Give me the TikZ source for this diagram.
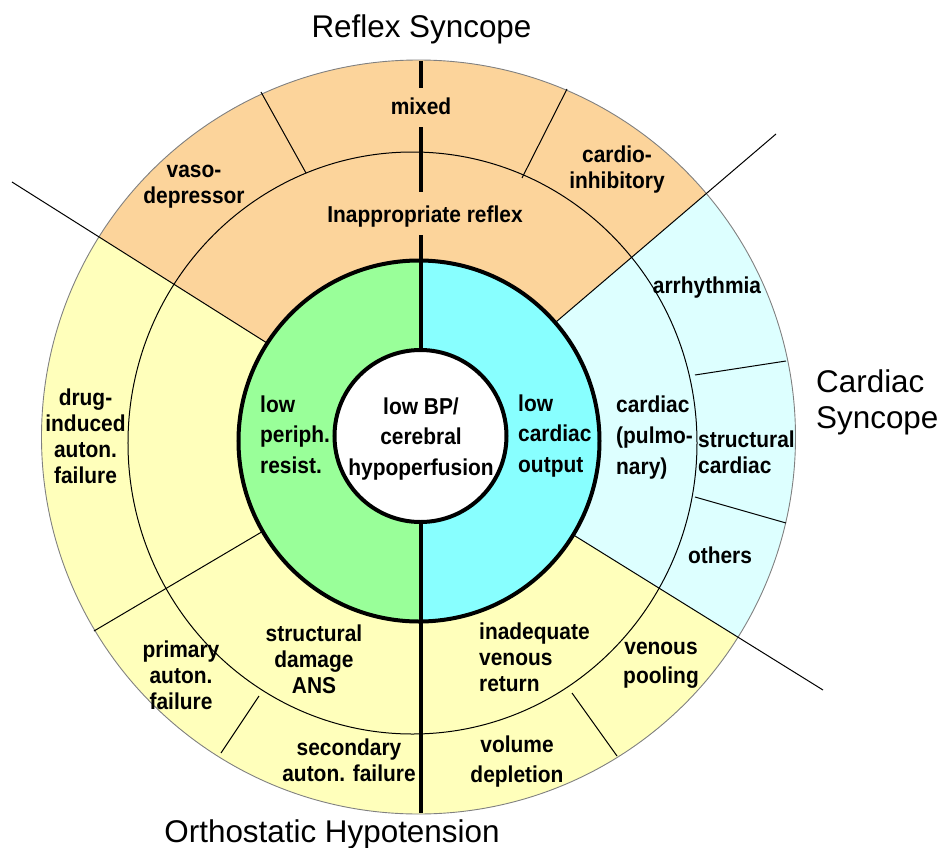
\documentclass[tikz,border=0pt]{standalone}
\usepackage{fontspec}
\setmainfont{Liberation Sans}
\newfontfamily\lblfont{Liberation Sans}[FakeStretch=0.91]
\definecolor{reflexfill}{RGB}{252,212,155}
\definecolor{orthofill}{RGB}{255,255,187}
\definecolor{cardfill}{RGB}{221,255,255}
\definecolor{periphfill}{RGB}{153,255,153}
\definecolor{outputfill}{RGB}{136,255,255}
\begin{document}
\begin{tikzpicture}[x=1pt,y=1pt,
  lbl/.style={font=\lblfont\bfseries\fontsize{23}{26}\selectfont, align=center, inner sep=0pt},
  lblwide/.style={font=\lblfont\bfseries\fontsize{23}{30.5}\selectfont, align=center, inner sep=0pt},
  lblleft/.style={font=\lblfont\bfseries\fontsize{23}{30.5}\selectfont, align=left, inner sep=0pt, anchor=west},
  ttl/.style={font=\fontsize{31.4}{36}\selectfont, align=left, inner sep=0pt},
  thinline/.style={line width=1pt},
  thickline/.style={line width=4.6pt},
  ringline/.style={line width=4pt},
]
\useasboundingbox (-419,-408) rectangle (525,439);

% sector backgrounds of the outer two rings
\begin{scope}
  \clip (-0.5,2) circle (377);
  \fill[reflexfill] (0,0) -- (40.5:600) arc (40.5:147.7:600) -- cycle;
  \fill[orthofill] (0,0) -- (147.7:600) arc (147.7:328.15:600) -- cycle;
  \fill[cardfill] (0,0) -- (-31.85:600) arc (-31.85:40.5:600) -- cycle;
\end{scope}

% ring boundaries
\draw[thinline] (-6.5,-4) ellipse [x radius=284.5, y radius=291];
\draw[gray, line width=0.9pt] (-0.5,2) circle (377);

% main dividing rays
\coordinate (O) at (0,0);
\coordinate (rayRO) at (-407,257);
\coordinate (rayRC) at (357,305);
\coordinate (rayCO) at (404,-251);
\coordinate (rayOO) at (-325,-192);
\draw[thinline] (rayRO) -- (O);
\draw[thinline] (rayRC) -- (O);
\draw[thinline] (rayCO) -- (O);
\draw[thinline] (rayOO) -- (O);

% subdivisions of the outer ring
\coordinate (vmA) at (-158,347);  \coordinate (vmB) at (-113,266);
\coordinate (mcA) at (148,350);   \coordinate (mcB) at (103,261);
\coordinate (asA) at (367,78);    \coordinate (asB) at (276,64);
\coordinate (soA) at (367,-84);   \coordinate (soB) at (276,-58);
\coordinate (vpA) at (198,-317);  \coordinate (vpB) at (153,-254);
\coordinate (psA) at (-198,-314); \coordinate (psB) at (-160,-257);
\draw[thinline] (vmA) -- (vmB);
\draw[thinline] (mcA) -- (mcB);
\draw[thinline] (asA) -- (asB);
\draw[thinline] (soA) -- (soB);
\draw[thinline] (vpA) -- (vpB);
\draw[thinline] (psA) -- (psB);

% central ring, two halves
\begin{scope}
  \clip (0,-2) circle (180.5);
  \fill[periphfill] (-200,-200) rectangle (2,200);
  \fill[outputfill] (2,-200) rectangle (200,200);
\end{scope}

% thick vertical axis
\coordinate (axT1) at (2,378);  \coordinate (axB1) at (2,351);
\coordinate (axT2) at (2,312);  \coordinate (axB2) at (2,247);
\coordinate (axT3) at (2,204);  \coordinate (axB3) at (2,-374);
\draw[thickline] (axT1) -- (axB1);
\draw[thickline] (axT2) -- (axB2);
\draw[thickline] (axT3) -- (axB3);

\draw[ringline] (0,-2) circle (180.5);
\filldraw[fill=white, ringline] (1.5,3) circle (86);

% labels
\node[lblwide] (core) at (2,0) {low BP/\\cerebral\\hypoperfusion};
\node[lblleft] (periph) at (-159,4.5) {low\\periph.\\resist.};
\node[lblleft] (cout) at (99,3) {low\\cardiac\\output};
\node[lblleft, font=\lblfont\bfseries\fontsize{23}{31}\selectfont] (cardpul) at (197,1) {cardiac\\(pulmo-\\nary)};
\node[lbl, anchor=west, align=left] (struct) at (279,-13.5) {structural\\cardiac};
\node[lbl] (arrh) at (288,151.5) {arrhythmia};
\node[lbl] (others) at (301,-116.5) {others};
\node[lbl, font=\lblfont\bfseries\fontsize{23}{29}\selectfont] (pool) at (242,-226) {venous\\pooling};
\node[lbl, anchor=west, align=left] (inadeq) at (60,-218.5) {inadequate\\venous\\return};
\node[lblwide, font=\lblfont\bfseries\fontsize{23}{30}\selectfont] (volume) at (98,-322.5) {volume\\depletion};
\node[lbl] (second) at (-70,-321.5) {secondary\\auton. failure};
\node[lbl] (damage) at (-105,-220) {structural\\damage\\ANS};
\node[lbl] (primary) at (-238,-236.5) {primary\\auton.\\failure};
\node[lbl] (drug) at (-333.5,2.5) {drug-\\induced\\auton.\\failure};
\node[lbl] (vaso) at (-225,252) {vaso-\\depressor};
\node[lbl] (mixed) at (2,332.5) {mixed};
\node[lbl] (cardinh) at (198,269) {cardio-\\inhibitory};
\node[lbl] (inapp) at (6,222.5) {Inappropriate reflex};

% group titles
\node[ttl] (tReflex) at (2.5,410) {Reflex Syncope};
\node[ttl, anchor=west] (tCard) at (397,37) {Cardiac\\Syncope};
\node[ttl] (tOrtho) at (-87,-395) {Orthostatic Hypotension};
\end{tikzpicture}
\end{document}
